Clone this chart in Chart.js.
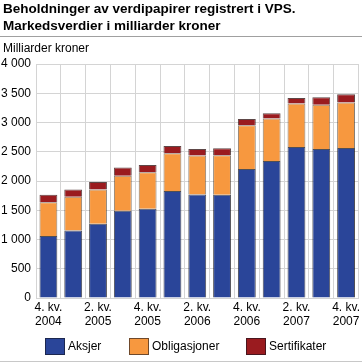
<!DOCTYPE html>
<html>
<head>
<meta charset="utf-8">
<script src="https://cdn.jsdelivr.net/npm/chart.js@4"></script>
<style>
  body { margin: 0; background: #fff; }
  #wrap { position: relative; width: 362px; height: 363px; font-family: "Liberation Sans", Arial, sans-serif; }
  #title { position: absolute; left: 3px; top: 0px; font-weight: bold; font-size: 13.5px; line-height: 17px; color: #000; }
  #rule { position: absolute; left: 0; top: 36px; width: 362px; height: 1px; background: #a0a0a0; }
  #unit { position: absolute; left: 3px; top: 41px; font-size: 12px; color: #000; }
  #rule2 { position: absolute; left: 0; top: 361px; width: 362px; height: 1px; background: #c8c8c8; }
  #legend { position: absolute; left: 0; top: 338px; width: 362px; height: 17px; font-size: 12px; }
  .item { position: absolute; top: 0; height: 17px; line-height: 17px; }
  .box { position: absolute; left: 0; top: 0; width: 18px; height: 15px; border: 1px solid rgba(20,20,30,0.6); }
  .item span { position: absolute; left: 23px; top: 0; white-space: nowrap; }
  canvas { position: absolute; left: 0; top: 0; }
</style>
</head>
<body>
<div id="wrap">
  <canvas id="c" width="362" height="363"></canvas>
  <div id="title">Beholdninger av verdipapirer registrert i VPS.<br>Markedsverdier i milliarder kroner</div>
  <div id="rule"></div>
  <div id="unit">Milliarder kroner</div>
  <div id="legend"></div>
  <div id="rule2"></div>
</div>
<script>
// Kvartaler
const kvartaler = [
  "4. kv. 2004", "1. kv. 2005", "2. kv. 2005", "3. kv. 2005", "4. kv. 2005",
  "1. kv. 2006", "2. kv. 2006", "3. kv. 2006", "4. kv. 2006",
  "1. kv. 2007", "2. kv. 2007", "3. kv. 2007", "4. kv. 2007"
];

// Markedsverdier, milliarder kroner
const aksjer = [1060, 1155, 1270, 1490, 1525, 1830, 1770, 1765, 2205, 2340, 2580, 2545, 2565];
const obligasjoner = [575, 575, 585, 600, 625, 645, 665, 675, 750, 730, 745, 760, 775];
const sertifikater = [130, 125, 130, 140, 125, 125, 110, 120, 105, 90, 95, 125, 145];

const yTicks = [0, 500, 1000, 1500, 2000, 2500, 3000, 3500, 4000];

const font = { family: "'Liberation Sans', Arial, sans-serif", size: 12 };

const chart = new Chart(document.getElementById("c"), {
  type: "bar",
  data: {
    labels: kvartaler,
    datasets: [
      { label: "Aksjer", data: aksjer, backgroundColor: "#2a4599", borderColor: "rgba(20,20,30,0.75)", borderWidth: 1 },
      { label: "Obligasjoner", data: obligasjoner, backgroundColor: "#f7983f", borderColor: "rgba(60,40,20,0.6)", borderWidth: 1 },
      { label: "Sertifikater", data: sertifikater, backgroundColor: "#9a1b1f", borderColor: "rgba(40,10,10,0.75)", borderWidth: 1 }
    ]
  },
  options: {
    responsive: false,
    animation: false,
    layout: { padding: { top: 64, right: 1, left: 0, bottom: 31 } },
    datasets: { bar: { categoryPercentage: 1, barPercentage: 0.72 } },
    plugins: {
      title: { display: false },
      tooltip: { enabled: false },
      legend: { display: false }
    },
    scales: {
      x: {
        stacked: true,
        grid: { color: "#d4d4d4", drawTicks: false },
        border: { color: "#d4d4d4" },
        ticks: {
          color: "#000",
          font: font,
          padding: 2,
          autoSkip: false,
          maxRotation: 0,
          callback: (v, i) => {
            if (i % 2 !== 0) return "";
            const l = kvartaler[i];
            return [l.slice(0, 6), l.slice(7)];
          }
        },
        afterFit: (s) => { s.height = 34; }
      },
      y: {
        stacked: true,
        min: 0,
        max: 4000,
        grid: { color: "#d4d4d4", drawTicks: false },
        border: { color: "#d4d4d4" },
        afterBuildTicks: (s) => { s.ticks = yTicks.map((v) => ({ value: v })); },
        ticks: {
          color: "#000",
          font: font,
          padding: 5,
          callback: (v) => String(v).replace(/\B(?=(\d{3})+(?!\d))/g, " ")
        },
        afterFit: (s) => { s.width = 36; }
      }
    }
  }
});

// Forklaring (legend) fra datasettene
const legendX = [45, 129, 246];
const legend = document.getElementById("legend");
chart.data.datasets.forEach((ds, i) => {
  const item = document.createElement("div");
  item.className = "item";
  item.style.left = legendX[i] + "px";
  item.innerHTML = '<div class="box" style="background:' + ds.backgroundColor + '"></div><span>' + ds.label + "</span>";
  legend.appendChild(item);
});
</script>
</body>
</html>
